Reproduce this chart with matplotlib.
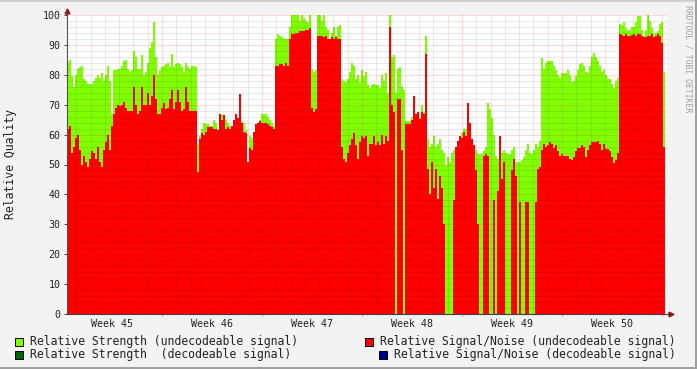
import numpy as np
import matplotlib
matplotlib.use("Agg")
import matplotlib.pyplot as plt
from matplotlib.patches import Rectangle

# relative strength (undecodeable), one value per ~3.4 hours
strength = [
    84, 85, 79.5, 76, 80, 82, 82.5, 83, 78.5, 78, 77, 77, 77, 78, 79, 80, 79, 80.5, 78, 80,
    83, 78, 67, 81.5, 81.5, 82, 82, 83, 84.5, 85, 82, 81, 81.5, 88, 86, 82, 82, 86.5, 80, 81,
    84, 89, 91, 97.5, 86, 80, 81.5, 82.5, 83,
    83.5, 84, 82.5, 87, 82.5, 83.5, 84, 83.5, 82.5, 81, 84, 82.5, 82, 83, 83, 82.5, 57, 59.5, 62, 64,
    63.5, 63.5, 63, 63, 65, 64, 61.5, 67, 66.5, 66.5, 65, 64, 63, 63, 65, 67, 65.5, 73.5, 64.5, 64,
    61.5, 51, 59.5, 59, 61, 63.5, 64, 65, 67, 67,
    67, 66, 65, 64, 63, 92, 93.5, 93, 92.5, 92, 92, 92, 96, 100, 100, 100, 100, 98, 100, 99,
    98, 97.5, 100, 82, 81, 81.5, 100, 100, 98, 100, 96, 95, 92, 94, 96, 93, 96, 96.5, 78.5, 78,
    77.5, 78.5, 81, 84, 83, 78.5, 80, 77.5, 81.5, 79.5,
    81, 76.5, 75.5, 76.5, 77, 76.5, 76.5, 75.5, 80, 78, 80.5, 74, 100, 86, 86.5, 74, 82, 82.5, 76, 75,
    64.5, 64.5, 64.5, 66, 73, 67, 67.5, 65.5, 70, 67.5, 93, 58.5, 56, 57, 59.5, 56, 57, 58.5, 55, 54,
    50, 52.5, 51, 54, 55, 56, 58, 59, 60.5, 62,
    62, 70.7, 64, 58.5, 56.5, 55, 53.5, 53.5, 53.5, 54.5, 56, 70.5, 68.5, 65.5, 60, 53, 52, 53, 54, 55,
    54, 53.5, 53.5, 55, 56, 51, 51, 51, 51.5, 52.5, 55, 57, 54, 53.5, 55, 57, 56, 58, 85.7, 82,
    84, 84.5, 84.5, 84.5, 83, 81.5, 80, 79, 80.5, 80.5,
    80.5, 81.5, 79.8, 77.5, 78, 79.5, 81.5, 83.5, 84, 83, 81, 80.5, 83, 86, 87.3, 86, 84.5, 83, 81, 81.5,
    80, 78.7, 78.5, 77, 75.7, 78, 79, 97, 96.5, 97.7, 95.5, 94.5, 95, 96, 96, 97.5, 99.5, 99.5, 95, 93,
    95, 100, 98, 95.5, 93.5, 94, 94.5, 97, 97.5, 81,
]

# relative signal/noise (undecodeable)
snr = [
    62, 63, 54, 56, 59, 60, 55, 50, 53, 51, 49, 52, 54.5, 54, 52, 56, 51, 49, 55, 57.5,
    59.8, 55, 63, 67, 69, 70, 69.5, 70, 71, 69, 68, 68, 68, 76, 70, 67, 68, 76, 70, 70,
    74, 70, 73, 80, 72, 67, 67, 69, 70.5,
    68.5, 69, 72, 75, 68.5, 71, 75, 71, 68, 68.5, 76, 71, 68, 68, 68, 68, 47.5, 58.5, 60.5, 60,
    61, 62.5, 62.5, 62.5, 62, 62, 61.5, 67, 65, 66.5, 62, 62.5, 62, 63, 65, 67, 65.5, 73.5, 64, 61,
    60.5, 51, 55.5, 55, 61, 63.5, 64, 64.5, 64, 64,
    64, 63.5, 63, 62.5, 62, 83, 83, 83.5, 83.5, 83, 84, 83, 92, 93.5, 93.5, 94, 94, 94.5, 94.5, 94.5,
    95, 95, 95.5, 69, 67.5, 68.5, 93, 93, 93, 92.5, 93, 92, 92, 92.5, 92, 92.5, 92, 92, 56, 52,
    50.8, 54, 56.5, 58.5, 60.5, 56.5, 52, 57.5, 59.5, 59,
    59.5, 53, 57, 57, 59.5, 56.5, 57.5, 56.5, 60, 57, 59.5, 58, 96, 70, 67.5, 0, 72, 72, 55, 0,
    63.5, 63.5, 63.5, 65, 73, 67, 67.5, 65.3, 67.5, 67, 87, 48.5, 40, 50.8, 42, 48.5, 38.5, 46, 42, 30,
    0, 0, 0, 0, 38, 56, 58, 59.5, 59, 61,
    59.5, 70.7, 64, 58.5, 56.5, 48, 30, 0, 0, 53, 53.5, 53, 0, 0, 38, 0, 41, 59.5, 45, 50.8,
    0, 0, 0, 48, 52, 46, 0, 37.5, 0, 0, 37.5, 37.5, 0, 0, 0, 37.5, 48.5, 49, 55, 57,
    56, 56.5, 57.5, 57, 55.5, 56.5, 54.5, 53, 53.5, 53,
    53, 53, 52, 51.5, 52.5, 54.5, 55.5, 55.5, 56.5, 56, 52.5, 55, 56.5, 57.5, 57.5, 57.5, 58, 57, 55, 57,
    55.3, 55.3, 54.5, 52.5, 50.5, 51.5, 54, 93.5, 93.2, 93, 93.5, 93, 93, 93.2, 93.8, 93, 93.5, 93.8, 93, 92.5,
    92.8, 93, 93, 93.5, 92.5, 93, 93.5, 93, 90.5, 55.8,
]

week_labels = ["Week 45", "Week 46", "Week 47", "Week 48", "Week 49", "Week 50"]
legend_items = [
    ("Relative Strength (undecodeable signal)", "#80FF00"),
    ("Relative Signal/Noise (undecodeable signal)", "#FF0000"),
    ("Relative Strength  (decodeable signal)", "#006400"),
    ("Relative Signal/Noise (decodeable signal)", "#000090"),
]

start_day = 0.35   # days after monday of week 45
step_day = 0.14
span_days = 42

plt.rcParams['font.family'] = ['DejaVu Sans Mono']
plt.rcParams['lines.scale_dashes'] = False

W, H = 697, 369
fig = plt.figure(figsize=(W / 100, H / 100), dpi=100, facecolor="#F3F3F3")
ax = fig.add_axes([67 / W, (H - 314) / H, 600 / W, 299 / H])
ax.set_facecolor("white")

edges = start_day + step_day * np.arange(len(strength) + 1)
ax.stairs(strength, edges, fill=True, color="#80FF00", lw=0, zorder=1)
ax.stairs(snr, edges, fill=True, color="#FF0000", lw=0, zorder=2)

ax.set_xlim(start_day, start_day + span_days)
ax.set_ylim(0, 100)

# rrdtool style dotted grid on top of the data
for v in range(2, 101, 2):
    if v % 10:
        ax.axhline(v, color=(0, 0, 0, 0.17), lw=0.72, dashes=(0.72, 0.72), zorder=3)
    else:
        ax.axhline(v, color=(1, 0, 0, 0.3), lw=0.72, dashes=(0.72, 0.72), zorder=3)
for d in range(1, 43):
    if d % 7:
        ax.axvline(d, color=(0, 0, 0, 0.17), lw=0.72, dashes=(0.72, 0.72), zorder=3)
    else:
        ax.axvline(d, color=(1, 0, 0, 0.3), lw=0.72, dashes=(0.72, 0.72), zorder=3)

for s in ax.spines.values():
    s.set_visible(False)
ax.plot([0, 0], [0, 1.02], transform=ax.transAxes, color="#505050", lw=0.8, clip_on=False, zorder=5)
ax.plot([0, 1.01], [0, 0], transform=ax.transAxes, color="#404040", lw=0.8, clip_on=False, zorder=5)
ax.plot([0], [1.014], marker="^", ms=3.5, color="#8B1A1A", transform=ax.transAxes, clip_on=False, zorder=6)
ax.plot([1.006], [0], marker=">", ms=3.5, color="#8B1A1A", transform=ax.transAxes, clip_on=False, zorder=6)

ax.set_yticks(range(0, 101, 10))
ax.tick_params(axis='y', length=2.2, width=0.7, pad=2.5, labelsize=7.2, colors="#404040", labelcolor="#222222")
ax.set_xticks([7 * k for k in range(1, 7)])
ax.set_xticklabels([])
ax.tick_params(axis='x', length=1.5, width=0.7, colors="#E08080")

for i, lab in enumerate(week_labels):
    ax.text(3.5 + 7 * i, -10 / 299, lab, transform=ax.get_xaxis_transform(),
            ha='center', va='center', fontsize=7.2, color="#222222")

fig.text(11 / W, 1 - 164 / H, "Relative Quality", rotation=90, ha='center', va='center',
         fontsize=8.3, color="#222222")
fig.text(688 / W, 1 - 5 / H, "RRDTOOL / TOBI OETIKER", rotation=270, ha='center', va='top',
         fontsize=5.9, color="#A0A0A0")

# legend drawn by hand, like rrdtool
spots = [(15, 30, 341.5), (365, 380, 341.5), (15, 30, 354.5), (379, 394, 354.5)]
for (bx, tx, yc), (lab, col) in zip(spots, legend_items):
    fig.add_artist(Rectangle((bx / W, 1 - (yc + 4) / H), 8 / W, 8 / H, transform=fig.transFigure,
                             facecolor=col, edgecolor="black", lw=0.7))
    fig.text(tx / W, 1 - yc / H, lab, ha='left', va='center', fontsize=8.3, color="#222222")

# 3d frame
fig.add_artist(Rectangle((0, 1 - 2 / H), 1, 2 / H, transform=fig.transFigure, color="#D0D0D0", lw=0))
fig.add_artist(Rectangle((0, 0), 1, 2 / H, transform=fig.transFigure, color="#A0A0A0", lw=0))
fig.add_artist(Rectangle((1 - 2 / W, 0), 2 / W, 1, transform=fig.transFigure, color="#A0A0A0", lw=0))

fig.savefig("out.png", dpi=100, facecolor=fig.get_facecolor())
